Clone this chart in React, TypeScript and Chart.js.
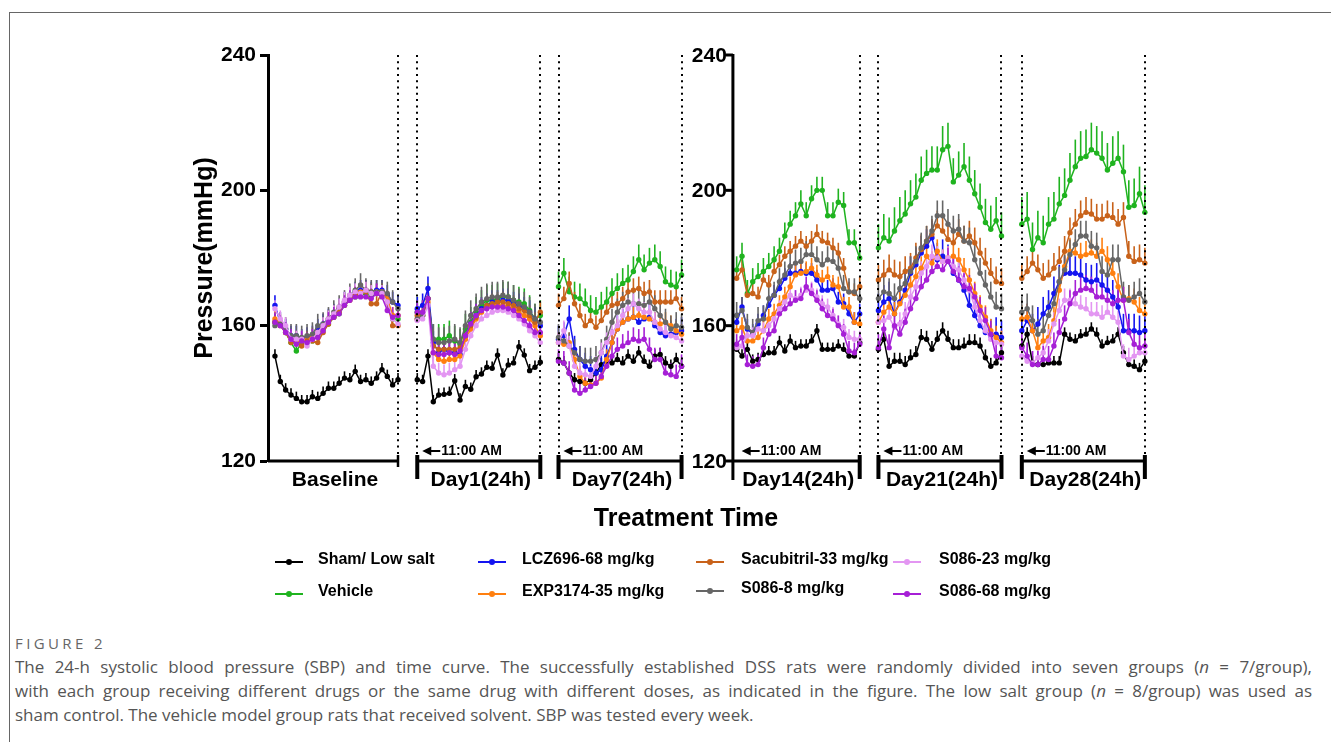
import React, { useEffect, useRef } from 'react';
import { Chart, registerables } from 'chart.js';

Chart.register(...registerables);

// ---------------- DATA ----------------
const panelLabels = ['Baseline', 'Day1(24h)', 'Day7(24h)', 'Day14(24h)', 'Day21(24h)', 'Day28(24h)'];
const yTicks = [120, 160, 200, 240];
const markerLabel = '11:00 AM';
const xAxisTitle = 'Treatment Time';
const yAxisTitle = 'Pressure(mmHg)';

const seriesNames = [
  'Sham/ Low salt',
  'Vehicle',
  'LCZ696-68 mg/kg',
  'EXP3174-35 mg/kg',
  'Sacubitril-33 mg/kg',
  'S086-8 mg/kg',
  'S086-23 mg/kg',
  'S086-68 mg/kg',
];

// hourly mean SBP, one array of 24 values per panel
const sham = [
  [151, 143.5, 141, 139.5, 138.5, 137.5, 137.5, 139, 138.5, 140, 141.5, 141.5, 143, 144.5, 144, 146.5, 143.5, 144, 143, 144.5, 147, 145, 142.5, 144],
  [144, 143.5, 151, 137.5, 139.5, 139.7, 140, 143.7, 138, 142, 141.2, 144.9, 145.7, 147.7, 147.4, 151.3, 145.4, 148.4, 149, 153.8, 151.3, 146.7, 147.7, 149.2],
  [150, 149, 146, 144, 143.5, 143, 144, 146, 148.5, 149.5, 149, 150, 149, 151, 149.5, 152, 149.5, 148, 151, 151.5, 149, 148, 150, 148],
  [153, 151, 153, 149.5, 150, 151.5, 152, 152, 155, 152.5, 155.5, 153.5, 154, 154, 155.5, 158.5, 153, 153, 153, 154, 153, 151, 151, 155],
  [153, 156, 148, 149.5, 149.5, 148.5, 150.5, 151.5, 156.5, 156, 153, 156, 158.5, 156, 153.5, 153.5, 154, 155, 155, 154, 150.5, 148, 149, 152],
  [154, 157.5, 149, 148.5, 148.5, 149, 149, 149, 157.5, 156, 155.5, 157, 157.5, 159, 157.5, 154, 155, 155.5, 157.5, 152, 148.5, 148, 147, 149.5],
];
const vehicle = [
  [161, 160.5, 158, 155, 152.5, 155, 155, 155.5, 157, 159, 160.5, 162.5, 163.5, 166, 168, 168.5, 169, 169.5, 169, 169.5, 170, 168, 162, 162],
  [164, 163, 168, 156, 156, 156, 157, 155.5, 154.5, 159, 161, 164, 166, 167.5, 167.5, 168, 168.5, 168.5, 167.5, 167, 166.5, 164.5, 162, 163],
  [171.5, 175.5, 170, 168.5, 168, 166.5, 164.5, 164, 165.5, 167, 169.5, 171, 172.5, 173.5, 176, 179.5, 176.5, 178.5, 179.5, 177.5, 173, 172, 171.5, 175],
  [176.5, 180.5, 169.5, 173, 174.5, 176, 177.5, 179.5, 182, 186.5, 190, 192.5, 196, 192.5, 197.5, 200, 200, 192.5, 192.5, 196.5, 195.5, 184.5, 184.5, 180],
  [183, 186, 185, 188, 191, 193, 196, 198, 203, 205, 206, 206, 212, 213, 202.5, 204.5, 207, 203, 199, 195, 190.5, 188.5, 191, 186.5],
  [190, 191.5, 182.5, 186, 184.5, 190, 191.5, 196, 198.5, 203, 207, 209.5, 210, 212, 211, 209.5, 206, 208, 209.5, 205.5, 195, 195.5, 199, 193.5],
];
const lcz696 = [
  [166, 161, 159, 157, 157, 156, 156.5, 157, 159, 160.5, 162, 163.5, 165, 167, 168.5, 170, 170.5, 170.5, 170, 170.5, 170.5, 169, 167, 166],
  [165, 166, 171, 155, 152, 153, 152, 152, 151.5, 157, 160.5, 163, 165, 166, 167, 167, 167.5, 167.5, 166.5, 166, 165, 164, 162, 160],
  [156, 157, 162, 153, 150, 148, 147, 146, 147, 151, 155, 159, 161, 162, 162.5, 161, 162, 162.5, 160, 158, 157, 157.5, 158, 158.5],
  [161, 165.5, 159, 157.5, 160.5, 163, 166, 169, 171, 174, 175.5, 175.5, 176, 175.5, 175.5, 173.5, 170.5, 170.5, 171, 167, 166.5, 163.5, 161, 163.5],
  [164.5, 167, 168, 163.5, 167, 170.5, 175.5, 178, 181.5, 183.5, 186, 179.5, 180.5, 179, 175.5, 173.5, 170.5, 166, 163, 160, 158, 157, 157.5, 156.5],
  [158.5, 161.5, 158.5, 160.5, 163.5, 165.5, 169.5, 173, 175.5, 175.5, 175.5, 175, 173.5, 173, 173.5, 172, 170.5, 168.5, 165.5, 158.5, 158.5, 158.5, 158, 158.5],
];
const exp3174 = [
  [162, 161, 158, 156, 156, 155.5, 156, 157, 158, 160, 162, 163.5, 165, 167, 168.5, 169.5, 170, 170.5, 170, 170, 170, 168, 163, 163],
  [162, 163, 167, 152, 150, 149.5, 150, 150, 151, 156, 159, 162, 164, 165.5, 166, 166, 166, 165.5, 165, 164, 163, 162, 160, 157],
  [155, 154.5, 155, 150, 145, 143, 142.5, 143, 144.5, 150, 155, 159, 161, 162, 162.5, 163, 162.5, 162, 161, 160.5, 161, 160, 158.5, 157.5],
  [158.5, 159.5, 155.5, 155.5, 156.5, 158.5, 162, 163.5, 166, 168.5, 171.5, 175, 175.5, 176, 177, 175, 173.5, 174.5, 172, 171.5, 165.5, 165.5, 161, 160.5],
  [161, 164, 165.5, 163.5, 166.5, 169, 172, 174.5, 177, 180.5, 178.5, 182, 179, 180, 180.5, 179.5, 176.5, 173.5, 169.5, 165.5, 162.5, 158.5, 156.5, 155],
  [162, 162.5, 158.5, 153.5, 155.5, 156.5, 161.5, 170.5, 177.5, 182, 181.5, 180.5, 181, 181.5, 180.5, 182, 179.5, 175.5, 171.5, 167.5, 168, 167, 164.5, 163.5],
];
const sacubitril = [
  [161, 160, 158, 155, 155, 154, 155.5, 155.5, 155, 158, 160.5, 162.5, 164, 166, 167.5, 169, 169.5, 170, 166.5, 166.5, 170, 167, 160, 160],
  [163, 164, 168, 154, 153, 153, 153, 153, 153.5, 157, 160, 162.5, 164.5, 166, 166.5, 167, 167, 166.5, 166, 165, 164.5, 163, 161, 164],
  [166, 168, 172.5, 166.5, 163, 160, 161.5, 159.5, 161.5, 164, 166, 166.5, 168, 170, 170.5, 171, 169.5, 170, 167, 167, 167, 167, 168, 165],
  [174, 176.5, 169, 169.5, 168.5, 173.5, 172, 176, 178, 180.5, 182, 183.5, 185, 183.5, 185, 187, 185, 184.5, 183, 181.5, 177, 170, 169.5, 171.5],
  [173.5, 175, 176.5, 175, 174.5, 176, 177, 180, 182.5, 185, 187, 189.5, 188, 185.5, 184.5, 187, 185, 186.5, 184.5, 181.5, 178.5, 175.5, 173, 172.5],
  [174, 176, 178.5, 176.5, 174, 175, 177, 179, 182, 187.5, 190, 192.5, 193.5, 193, 191.5, 191.5, 192.5, 192, 190, 192, 180.5, 179, 179.5, 178.5],
];
const s086Low = [
  [160, 160.5, 159, 157, 157, 156.5, 157, 157.5, 160, 160.5, 162, 164, 165.5, 167, 169, 170.5, 172, 170.5, 170, 170, 170, 169.5, 167, 165],
  [162, 163, 168, 156, 155, 155, 155.5, 156, 155, 160, 163, 165, 167, 168, 168.5, 168.5, 169, 168.5, 167.5, 166.5, 165.5, 164, 162, 161],
  [156.5, 155.5, 154, 152, 150, 149.5, 149.5, 150, 152, 156, 161, 164, 166, 167, 166.5, 166.5, 166, 167, 165, 163, 161, 159, 160, 159.5],
  [163, 164.5, 159.5, 158, 161.5, 162, 168, 169, 173, 175, 177.5, 178.5, 179, 181, 181, 179.5, 178, 179.5, 179, 177, 171, 170, 170, 168],
  [168, 170, 169.5, 168, 171, 172.5, 176, 179, 183, 185, 188, 192.5, 192.5, 190, 188, 188.5, 185, 184.5, 179.5, 175.5, 172, 168.5, 165.5, 165],
  [164, 165, 161.5, 157.5, 158.5, 163, 166.5, 173, 176.5, 181, 184, 186.5, 186.5, 183.5, 183, 176, 175, 179.5, 179.5, 168.5, 167.5, 168.5, 169.5, 167],
];
const s086Mid = [
  [165, 162, 160, 156, 156, 156, 154, 156, 158, 160, 162, 163.5, 165.5, 167.5, 169, 170, 169.5, 170.5, 169.5, 169.5, 169.5, 167, 162, 160.5],
  [161.5, 162, 166, 148, 146, 145.5, 146, 147, 148, 153, 157, 160, 162, 163, 164, 164.5, 164.5, 164, 163, 162, 160.5, 158.5, 157, 155],
  [155, 158.5, 154, 148, 146, 145.5, 145, 148, 152, 155, 158, 160, 163, 165, 166.5, 165, 164, 164, 161, 159, 158, 157, 156.5, 155.5],
  [153.5, 154, 157, 157, 159, 158.5, 160, 162, 165, 167, 169, 168, 169, 170.5, 170.5, 168.5, 166.5, 165.5, 163, 160.5, 159.5, 156.5, 156, 156],
  [161, 161.5, 162.5, 159.5, 160.5, 163.5, 168.5, 171.5, 175.5, 177.5, 180.5, 180, 179, 180, 177.5, 176.5, 173.5, 170.5, 165.5, 161.5, 158.5, 156, 155, 154.5],
  [151, 149.5, 149, 150.5, 152, 155.5, 160.5, 164.5, 167.5, 167.5, 166.5, 165.5, 165, 163.5, 163.5, 162.5, 164, 162.5, 161, 151, 150, 151, 152, 152],
];
const s086High = [
  [161, 160, 158, 156, 154.5, 155.5, 155, 156, 156.5, 158.5, 161, 162.5, 163.5, 166, 167.5, 168.5, 168.5, 168.5, 168, 169.5, 168.5, 164.5, 162.5, 163],
  [164, 164, 168, 152, 151.5, 151.5, 152, 151.5, 152.5, 157, 160.5, 163, 164.5, 165, 165.5, 165.5, 165.5, 165, 164.5, 163, 161.5, 160, 158, 158],
  [149.5, 149, 146, 141, 140, 141, 142, 143, 145, 148, 151, 153, 154, 155, 156, 155.5, 156, 153, 150, 150, 146, 145.5, 145, 148],
  [154.5, 156.5, 148.5, 148, 148.5, 153.5, 157.5, 158.5, 163.5, 165, 166.5, 167.5, 168, 171.5, 169.5, 167.5, 165, 163, 162, 160, 157.5, 152.5, 152, 154.5],
  [153.5, 159, 153.5, 160, 157.5, 161, 165, 168, 171.5, 173.5, 176, 177.5, 176.5, 179, 176, 173.5, 171.5, 171, 168.5, 164.5, 161.5, 157.5, 151, 150.5],
  [153.5, 151, 148.5, 148.5, 150, 150, 154, 158, 162, 166.5, 169.5, 170.5, 171, 170.5, 168.5, 168.5, 167.5, 166.5, 167.5, 167.5, 158, 154.5, 153.5, 154],
];

// typical SEM per panel (upward error bars)
const shamErr = [2, 2, 2, 2, 2.5, 2];
const vehicleErr = [2, 4.5, 4.5, 4, 7, 8];
const lcz696Err = [3, 3.5, 4, 3, 5, 5];
const exp3174Err = [2.5, 3, 3, 3, 3.5, 4];
const sacubitrilErr = [2.5, 3, 3.5, 3, 4.5, 4.5];
const s086LowErr = [3.5, 4.5, 4, 4, 4.5, 4.5];
const s086MidErr = [2.5, 3, 3, 2.5, 3.5, 3.5];
const s086HighErr = [3, 3.5, 3.5, 3, 4, 4];

const seriesValues = [sham, vehicle, lcz696, exp3174, sacubitril, s086Low, s086Mid, s086High];
const seriesErrors = [shamErr, vehicleErr, lcz696Err, exp3174Err, sacubitrilErr, s086LowErr, s086MidErr, s086HighErr];

const captionHead = 'FIGURE 2';
const captionLines = [
  ['The 24-h systolic blood pressure (SBP) and time curve. The successfully established DSS rats were randomly divided into seven groups (', 'n', ' = 7/group),'],
  ['with each group receiving different drugs or the same drug with different doses, as indicated in the figure. The low salt group (', 'n', ' = 8/group) was used as'],
  ['sham control. The vehicle model group rats that received solvent. SBP was tested every week.'],
];

// ---------------- STYLE / LAYOUT ----------------
const seriesColors = ['#000000', '#1fb31f', '#1414f0', '#ff7f0f', '#c8621a', '#666666', '#e396f2', '#a61fd6'];
const drawOrder = [7, 6, 5, 4, 3, 2, 1, 0];
const PANEL_START = [1.3, 27.9, 54.3, 87.6, 114.1, 140.9];
const PANEL_LEN = 23;
const AXIS2_X = 86.9;
const X_MAX = 164.3;
const FONT = "'Liberation Sans', Arial, Helvetica, sans-serif";

const legendCols = [275, 478, 696, 893];
const legendRows = [562, 594];

function buildData(values: number[][]) {
  const pts: { x: number; y: number | null }[] = [];
  values.forEach((panel, p) => {
    panel.forEach((v, i) => pts.push({ x: PANEL_START[p] + i, y: v }));
    if (p < values.length - 1) pts.push({ x: PANEL_START[p] + PANEL_LEN + 0.5, y: null });
  });
  return pts;
}

const errorBarPlugin = {
  id: 'errorBars',
  beforeDatasetsDraw(chart: any) {
    const ctx = chart.ctx;
    const ys = chart.scales.y;
    ctx.save();
    chart.data.datasets.forEach((ds: any, d: number) => {
      const meta = chart.getDatasetMeta(d);
      ctx.strokeStyle = ds.borderColor;
      ctx.lineWidth = 1.6;
      ds.data.forEach((pt: any, k: number) => {
        if (pt.y == null) return;
        const el = meta.data[k];
        const p = Math.min(5, Math.floor(k / (PANEL_LEN + 2)));
        const err = seriesErrors[d][p];
        const yTop = ys.getPixelForValue(pt.y + err);
        ctx.beginPath();
        ctx.moveTo(el.x, el.y);
        ctx.lineTo(el.x, yTop);
        ctx.stroke();
      });
    });
    ctx.restore();
  },
};

const decorPlugin = {
  id: 'decor',
  afterDraw(chart: any) {
    const ctx = chart.ctx;
    const xs = chart.scales.x;
    const ys = chart.scales.y;
    const px = (v: number) => xs.getPixelForValue(v);
    const top = ys.getPixelForValue(240);
    const bottom = ys.getPixelForValue(120);
    const left0 = chart.chartArea.left;
    ctx.save();
    ctx.fillStyle = '#000';
    ctx.strokeStyle = '#000';

    // dotted separators
    ctx.lineWidth = 2;
    ctx.setLineDash([2, 4.3]);
    PANEL_START.forEach((s, p) => {
      const xsList: number[] = [];
      if (p !== 0 && p !== 3) xsList.push(px(s));
      xsList.push(px(s + PANEL_LEN));
      xsList.forEach((x) => {
        ctx.beginPath();
        ctx.moveTo(Math.round(x), top);
        ctx.lineTo(Math.round(x), bottom - 5);
        ctx.stroke();
      });
    });
    ctx.setLineDash([]);

    // second y axis
    const ax2 = px(AXIS2_X);
    ctx.lineWidth = 3;
    ctx.beginPath();
    ctx.moveTo(ax2, top - 1);
    ctx.lineTo(ax2, bottom + 19);
    ctx.stroke();
    ctx.font = `bold 21px ${FONT}`;
    ctx.textAlign = 'right';
    ctx.textBaseline = 'middle';
    yTicks.forEach((t) => {
      const y = ys.getPixelForValue(t);
      ctx.beginPath();
      ctx.moveTo(ax2 - 7, y);
      ctx.lineTo(ax2, y);
      ctx.stroke();
      ctx.fillText(String(t), ax2 - 6, y + 1);
    });

    // brackets and panel labels
    PANEL_START.forEach((s, p) => {
      const l = p === 0 ? left0 : p === 3 ? ax2 : px(s);
      const r = px(s + PANEL_LEN);
      ctx.lineWidth = 3;
      ctx.beginPath();
      ctx.moveTo(l, bottom);
      ctx.lineTo(r, bottom);
      ctx.stroke();
      if (p === 0) {
        ctx.lineWidth = 2.5;
        ctx.beginPath();
        ctx.moveTo(r, bottom - 6);
        ctx.lineTo(r, bottom + 6);
        ctx.stroke();
      } else {
        ctx.lineWidth = 4;
        const ends = p === 3 ? [r] : [l, r];
        ends.forEach((x) => {
          ctx.beginPath();
          ctx.moveTo(x, bottom - 6);
          ctx.lineTo(x, bottom + 18);
          ctx.stroke();
        });
      }
      ctx.font = `bold 21px ${FONT}`;
      ctx.textAlign = 'center';
      ctx.textBaseline = 'middle';
      ctx.fillText(panelLabels[p], (l + r) / 2 + 2, bottom + 19);

      if (p > 0) {
        const tip = px(s) + 5;
        const ay = bottom - 10;
        ctx.beginPath();
        ctx.moveTo(tip, ay);
        ctx.lineTo(tip + 9, ay - 4.5);
        ctx.lineTo(tip + 9, ay + 4.5);
        ctx.closePath();
        ctx.fill();
        ctx.lineWidth = 2;
        ctx.beginPath();
        ctx.moveTo(tip + 8, ay);
        ctx.lineTo(tip + 18, ay);
        ctx.stroke();
        ctx.font = `bold 14px ${FONT}`;
        ctx.textAlign = 'left';
        ctx.fillText(markerLabel, tip + 19, ay);
      }
    });

    // axis titles
    ctx.font = `bold 25px ${FONT}`;
    ctx.textAlign = 'center';
    ctx.textBaseline = 'middle';
    ctx.fillText(xAxisTitle, 686, bottom + 58);
    ctx.save();
    ctx.translate(left0 - 63, (top + bottom) / 2);
    ctx.rotate(-Math.PI / 2);
    ctx.fillText(yAxisTitle, 0, 0);
    ctx.restore();

    ctx.restore();
  },
};

function ChartCanvas() {
  const ref = useRef<HTMLCanvasElement>(null);
  useEffect(() => {
    if (!ref.current) return;
    const datasets = seriesValues.map((vals, i) => ({
      label: seriesNames[i],
      data: buildData(vals),
      borderColor: seriesColors[i],
      backgroundColor: seriesColors[i],
      pointBackgroundColor: seriesColors[i],
      pointBorderColor: seriesColors[i],
      borderWidth: 1.5,
      pointRadius: 2.7,
      pointBorderWidth: 0,
      spanGaps: false,
      tension: 0,
      clip: false as any,
      order: drawOrder[i],
    }));
    const chart = new Chart(ref.current, {
      type: 'line',
      data: { datasets },
      options: {
        responsive: false,
        animation: false,
        devicePixelRatio: 1,
        layout: { padding: { left: 180, right: 184, top: 55, bottom: 159 } },
        plugins: { legend: { display: false }, tooltip: { enabled: false } },
        scales: {
          x: { type: 'linear', min: 0, max: X_MAX, display: false },
          y: {
            min: 120,
            max: 240,
            afterFit: (s: any) => { s.width = 88; },
            afterBuildTicks: (s: any) => { s.ticks = yTicks.map((v) => ({ value: v })); },
            ticks: { color: '#000', padding: 4, font: { family: FONT, weight: 'bold', size: 21 } },
            grid: { drawOnChartArea: false, drawTicks: true, tickLength: 8, tickWidth: 3, tickColor: '#000', color: '#000' },
            border: { display: true, width: 3, color: '#000' },
          },
        },
      } as any,
      plugins: [errorBarPlugin, decorPlugin],
    });
    return () => chart.destroy();
  }, []);
  return <canvas ref={ref} width={1331} height={620} style={{ position: 'absolute', left: 0, top: 0, width: 1331, height: 620 }} />;
}

function Legend() {
  const order = [0, 2, 4, 6, 1, 3, 5, 7];
  return (
    <>
      {order.map((si, k) => {
        const col = k % 4;
        const row = Math.floor(k / 4);
        let cy = legendRows[row];
        if (row === 1 && col === 2) cy -= 3;
        const lx = legendCols[col];
        return (
          <div key={si} style={{ position: 'absolute', left: lx, top: cy - 12, height: 24, width: 210 }}>
            <div style={{ position: 'absolute', left: 0, top: 11, width: 28, height: 2, background: seriesColors[si] }} />
            <div style={{ position: 'absolute', left: 11, top: 9, width: 6, height: 6, borderRadius: 3, background: seriesColors[si] }} />
            <div style={{ position: 'absolute', left: col === 0 ? 43 : col === 1 ? 44 : col === 2 ? 45 : 46, top: 0, lineHeight: '24px', font: `bold 16px ${FONT}`, color: '#000', whiteSpace: 'nowrap' }}>
              {seriesNames[si]}
            </div>
          </div>
        );
      })}
    </>
  );
}

function Caption() {
  const base: React.CSSProperties = { position: 'absolute', left: 15, fontFamily: "'Open Sans', 'Noto Sans', sans-serif", color: '#555' };
  return (
    <>
      <div style={{ ...base, top: 634, fontSize: 15, lineHeight: '18px', color: '#666', letterSpacing: '3.4px', whiteSpace: 'nowrap' }}>{captionHead}</div>
      <div style={{ ...base, top: 655, width: 1297, fontSize: 17, lineHeight: '24px' }}>
        {captionLines.map((parts, li) => (
          <div key={li} style={{ textAlign: 'justify', textAlignLast: li < 2 ? 'justify' : 'left', whiteSpace: 'normal' } as any}>
            {parts.map((t, j) => (j === 1 ? <i key={j}>{t}</i> : <span key={j}>{t}</span>))}
          </div>
        ))}
      </div>
    </>
  );
}

export default function App() {
  return (
    <div style={{ position: 'absolute', left: 0, top: 0, width: 1331, height: 742, background: '#fff', overflow: 'hidden' }}>
      <div style={{ position: 'absolute', left: 9, top: 12, width: 1330, height: 740, borderLeft: '1px solid #666', borderTop: '1px solid #666' }} />
      <ChartCanvas />
      <Legend />
      <Caption />
    </div>
  );
}
